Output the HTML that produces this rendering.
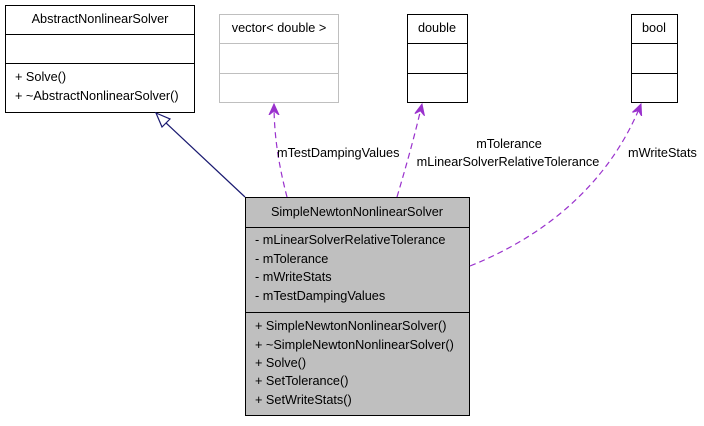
<!DOCTYPE html>
<html><head><meta charset="utf-8"><style>
html,body{margin:0;padding:0;background:#fff;}
svg text{font-family:"Liberation Sans",sans-serif;font-size:12.7px;fill:#000;}
</style></head><body>
<svg width="704" height="421" viewBox="0 0 704 421" xmlns="http://www.w3.org/2000/svg">
<defs>
<marker id="pa" viewBox="0 0 12 12" refX="11" refY="6" markerWidth="12" markerHeight="12" markerUnits="userSpaceOnUse" orient="auto">
<path d="M0,1 L11,6 L0,11 L4,6 Z" fill="#9a32cd" stroke="#9a32cd" stroke-width="1"/>
</marker>
</defs>
<rect x="5.5" y="5.5" width="189" height="107" fill="#fff" stroke="#000"/>
<line x1="5" y1="34.5" x2="195" y2="34.5" stroke="#000"/>
<line x1="5" y1="63.5" x2="195" y2="63.5" stroke="#000"/>
<text x="100" y="23" text-anchor="middle">AbstractNonlinearSolver</text>
<text x="15" y="81">+ Solve()</text>
<text x="15" y="100">+ ~AbstractNonlinearSolver()</text>
<rect x="219.5" y="14.5" width="119" height="88" fill="#fff" stroke="#bfbfbf"/>
<line x1="219" y1="43.5" x2="339" y2="43.5" stroke="#bfbfbf"/>
<line x1="219" y1="73.5" x2="339" y2="73.5" stroke="#bfbfbf"/>
<text x="279" y="32" text-anchor="middle">vector&lt; double &gt;</text>
<rect x="407.5" y="14.5" width="60" height="88" fill="#fff" stroke="#000"/>
<line x1="407" y1="43.5" x2="468" y2="43.5" stroke="#000"/>
<line x1="407" y1="73.5" x2="468" y2="73.5" stroke="#000"/>
<text x="437" y="32" text-anchor="middle">double</text>
<rect x="631.5" y="14.5" width="46" height="88" fill="#fff" stroke="#000"/>
<line x1="631" y1="43.5" x2="678" y2="43.5" stroke="#000"/>
<line x1="631" y1="73.5" x2="678" y2="73.5" stroke="#000"/>
<text x="654" y="32" text-anchor="middle">bool</text>
<rect x="245.5" y="197.5" width="224" height="218" fill="#bfbfbf" stroke="#000"/>
<line x1="245" y1="227.5" x2="470" y2="227.5" stroke="#000"/>
<line x1="245" y1="312.5" x2="470" y2="312.5" stroke="#000"/>
<text x="357" y="216" text-anchor="middle">SimpleNewtonNonlinearSolver</text>
<text x="255" y="244">- mLinearSolverRelativeTolerance</text>
<text x="255" y="263">- mTolerance</text>
<text x="255" y="281">- mWriteStats</text>
<text x="255" y="300">- mTestDampingValues</text>
<text x="255" y="330">+ SimpleNewtonNonlinearSolver()</text>
<text x="255" y="349">+ ~SimpleNewtonNonlinearSolver()</text>
<text x="255" y="367">+ Solve()</text>
<text x="255" y="385">+ SetTolerance()</text>
<text x="255" y="404">+ SetWriteStats()</text>
<line x1="245" y1="197" x2="165" y2="122" stroke="#191970" stroke-width="1.2"/>
<path d="M156,113 L170,119 L162,127 Z" fill="#fff" stroke="#191970" stroke-width="1.2"/>
<path d="M287,197 C280,170 274,140 274,104" fill="none" stroke="#9a32cd" stroke-width="1.2" stroke-dasharray="6,4" marker-end="url(#pa)"/>
<path d="M397,197 C405,170 415,135 422,104" fill="none" stroke="#9a32cd" stroke-width="1.2" stroke-dasharray="6,4" marker-end="url(#pa)"/>
<path d="M470,266 C560,230 615,170 641,104" fill="none" stroke="#9a32cd" stroke-width="1.2" stroke-dasharray="6,4" marker-end="url(#pa)"/>
<text x="277" y="157">mTestDampingValues</text>
<text x="509" y="148" text-anchor="middle">mTolerance</text>
<text x="508" y="166" text-anchor="middle">mLinearSolverRelativeTolerance</text>
<text x="628" y="157">mWriteStats</text>
</svg>
</body></html>
